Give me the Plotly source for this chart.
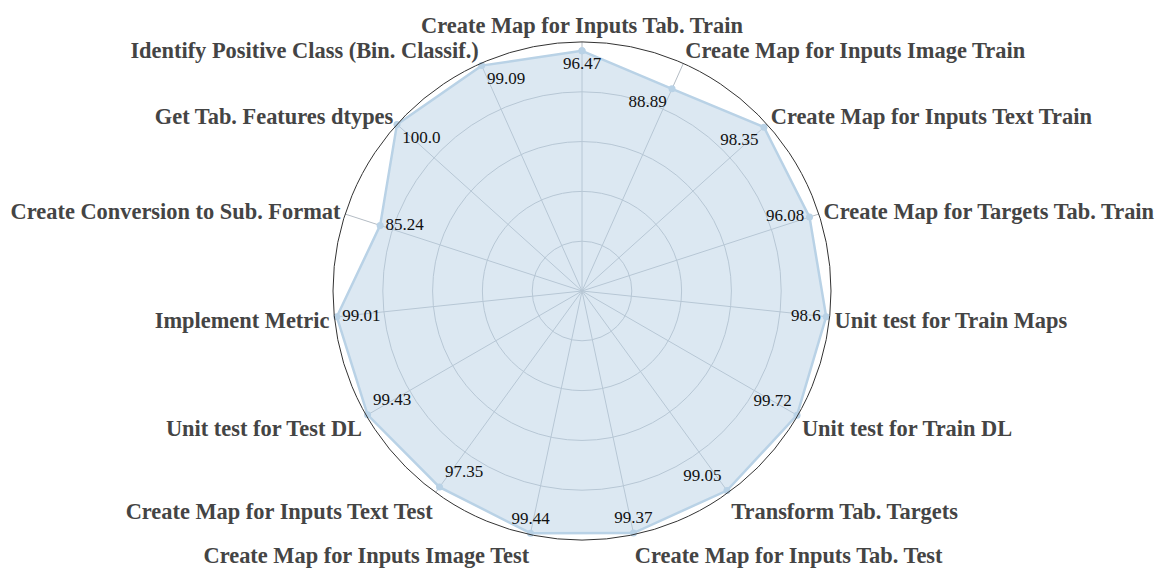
import plotly.graph_objects as go

categories = [
    "Create Map for Inputs Tab. Train",
    "Create Map for Inputs Image Train",
    "Create Map for Inputs Text Train",
    "Create Map for Targets Tab. Train",
    "Unit test for Train Maps",
    "Unit test for Train DL",
    "Transform Tab. Targets",
    "Create Map for Inputs Tab. Test",
    "Create Map for Inputs Image Test",
    "Create Map for Inputs Text Test",
    "Unit test for Test DL",
    "Implement Metric",
    "Create Conversion to Sub. Format",
    "Get Tab. Features dtypes",
    "Identify Positive Class (Bin. Classif.)",
]
values = [96.47, 88.89, 98.35, 96.08, 98.6, 99.72, 99.05, 99.37, 99.44, 97.35, 99.43, 99.01, 85.24, 100.0, 99.09]
labels = ["96.47", "88.89", "98.35", "96.08", "98.6", "99.72", "99.05", "99.37", "99.44", "97.35", "99.43", "99.01", "85.24", "100.0", "99.09"]
text_positions = [
    "bottom center", "bottom left", "bottom left", "middle left", "middle left",
    "top left", "top left", "top center", "top center", "top right",
    "top right", "middle right", "middle right", "bottom right", "bottom right",
]

line_color = "#b9d2e6"
serif = "Liberation Serif"

fig = go.Figure(
    go.Scatterpolar(
        r=values + [values[0]],
        theta=categories + [categories[0]],
        mode="lines+markers+text",
        text=labels + [""],
        textposition=text_positions + ["bottom center"],
        textfont=dict(family=serif, size=17, color="#111111"),
        line=dict(color=line_color, width=2.5),
        marker=dict(color=line_color, size=7),
        fill="toself",
        fillcolor="rgba(185,210,230,0.5)",
        cliponaxis=False,
        showlegend=False,
    )
)

fig.update_layout(
    width=1164,
    height=569,
    paper_bgcolor="white",
    plot_bgcolor="white",
    margin=dict(l=64, r=80, t=34, b=37),
    font=dict(family=serif),
    polar=dict(
        bgcolor="white",
        radialaxis=dict(
            range=[0, 100],
            tickvals=[20, 40, 60, 80, 100],
            showticklabels=False,
            ticks="",
            showline=False,
            gridcolor="#b4bcc4",
            gridwidth=1,
        ),
        angularaxis=dict(
            direction="clockwise",
            rotation=90,
            showline=True,
            linecolor="#333333",
            linewidth=1,
            gridcolor="#b4bcc4",
            ticks="",
            tickfont=dict(family=serif, size=22.4, color="#444444", weight="bold"),
        ),
    ),
)

fig.write_html("out.html")
